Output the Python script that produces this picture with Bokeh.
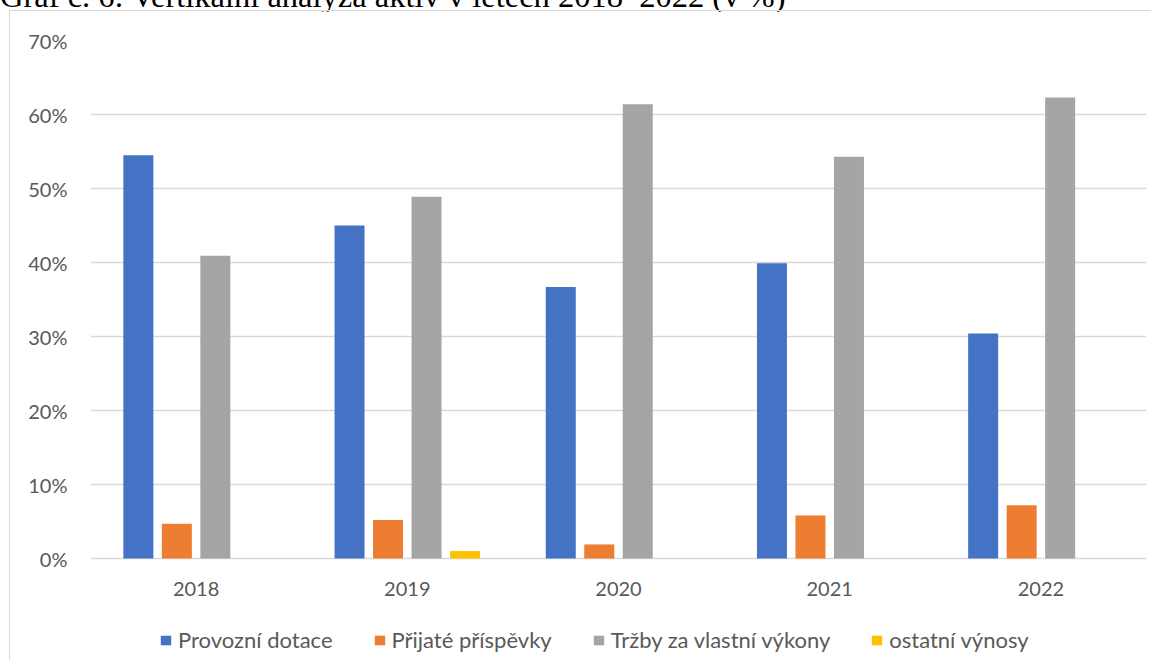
from bokeh.plotting import figure
from bokeh.models import (FactorRange, Range1d, Legend, LegendItem, Div,
                          FixedTicker, PrintfTickFormatter)
from bokeh.layouts import column
from bokeh.transform import dodge
from bokeh.core.properties import value
from bokeh.embed import file_html
from bokeh.resources import INLINE

# ---- data (percent) ----
years = ["2018", "2019", "2020", "2021", "2022"]
provozni_dotace = [54.5, 45.0, 36.7, 39.9, 30.4]
prijate_prispevky = [4.7, 5.2, 1.9, 5.8, 7.2]
trzby_vykony = [40.9, 48.9, 61.4, 54.3, 62.3]
ostatni_vynosy = [0.0, 1.0, 0.0, 0.0, 0.0]
series_names = ["Provozní dotace", "Přijaté příspěvky", "Tržby za vlastní výkony", "ostatní výnosy"]
colors = ["#4472C4", "#ED7D31", "#A5A5A5", "#FFC000"]
y_ticks = [0, 10, 20, 30, 40, 50, 60, 70]
title_text = "Graf č. 6: Vertikální analýza aktiv v letech 2018–2022 (v %)"

FONT = "Lato"
TXT = "#595959"
GRID = "#d9d9d9"

# caption above the chart box (its upper part lies above the window, as in the original)
title_div = Div(text=title_text, width=1100, height=30, margin=(-20, 0, 0, 0),
                styles={"font-family": "'Liberation Serif', serif", "font-size": "32.5px",
                        "line-height": "32px", "color": "#000000", "white-space": "nowrap",
                        "overflow": "visible"})

W, H = 1142, 650
FL, FR, FT, ZERO = 80, 1136, 29, 547      # frame left/right/top and the 0 % line, in canvas px
px_per_unit = (ZERO - FT) / 70.0
y_bottom = -(H - ZERO) / px_per_unit       # frame reaches the canvas bottom so the legend fits inside

p = figure(x_range=FactorRange(*years, range_padding=0), y_range=Range1d(y_bottom, 70),
           width=W, height=H, output_backend="svg", toolbar_location=None,
           min_border_left=FL, min_border_right=W - FR,
           min_border_top=FT, min_border_bottom=0, margin=(0, 0, 0, 9))
p.styles = {"border-left": "1px solid #d9d9d9", "border-top": "1px solid #d9d9d9"}
p.outline_line_color = None
p.background_fill_color = "white"
p.border_fill_color = "white"

data = dict(year=years, a=provozni_dotace, b=prijate_prispevky, c=trzby_vykony, d=ostatni_vynosy)
step = 38.5 / 211.2
bw = 30 / 211.2
keys = ["a", "b", "c", "d"]
offsets = [-1.5 * step, -0.5 * step, 0.5 * step, 1.5 * step]
renderers = []
for k, off, col in zip(keys, offsets, colors):
    r = p.vbar(x=dodge("year", off, range=p.x_range), bottom=0, top=k, width=bw, source=data,
               fill_color=col, line_color=None)
    renderers.append(r)

# y axis
p.yaxis.ticker = FixedTicker(ticks=y_ticks)
p.yaxis.formatter = PrintfTickFormatter(format="%d%%")
p.yaxis.axis_line_color = None
p.yaxis.major_tick_line_color = None
p.yaxis.minor_tick_line_color = None
p.yaxis.major_tick_out = 0
p.yaxis.major_tick_in = 0
p.yaxis.major_label_standoff = 23
p.yaxis.major_label_text_font = FONT
p.yaxis.major_label_text_font_size = "20px"
p.yaxis.major_label_text_color = TXT

# category labels sit under the 0 % line
p.xaxis.visible = False
p.text(x=years, y=[0] * len(years), text=years, y_offset=30,
       text_align="center", text_baseline="alphabetic",
       text_font=value(FONT), text_font_size=value("20px"), text_color=TXT)

p.xgrid.grid_line_color = None
p.ygrid.ticker = FixedTicker(ticks=y_ticks)
p.ygrid.grid_line_color = GRID
p.ygrid.grid_line_width = 1.3

legend = Legend(items=[LegendItem(label=n, renderers=[r]) for n, r in zip(series_names, renderers)],
                orientation="horizontal", location=(69, 8), margin=0,
                glyph_width=13, glyph_height=12, label_standoff=6, spacing=40,
                padding=0, border_line_color=None, background_fill_alpha=0,
                label_text_font=FONT, label_text_font_size="22px", label_text_color=TXT,
                label_height=22)
p.add_layout(legend, "center")

layout = column(title_div, p, spacing=0)
open("out.html", "w").write(file_html(layout, INLINE))
